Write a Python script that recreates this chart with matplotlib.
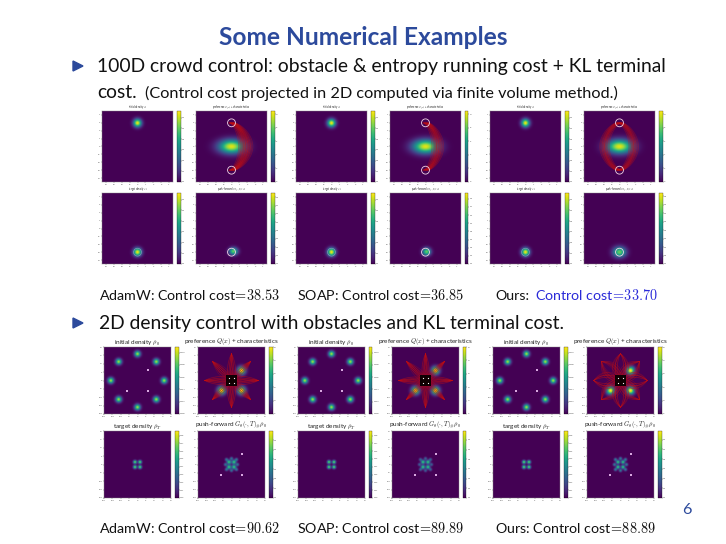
import numpy as np
import matplotlib.pyplot as plt
from matplotlib.patches import Circle, Rectangle, Polygon

plt.rcParams['font.family'] = ['Lato', 'DejaVu Sans']
plt.rcParams['mathtext.fontset'] = 'cm'

# ---- slide text ----
title = 'Some Numerical Examples'
bullet_1 = '100D crowd control: obstacle & entropy running cost + KL terminal'
bullet_1b = 'cost.'
bullet_1_note = '(Control cost projected in 2D computed via finite volume method.)'
bullet_2 = '2D density control with obstacles and KL terminal cost.'
methods = ['AdamW', 'SOAP', 'Ours']
crowd_cost = ['38.53', '36.85', '33.70']
density_cost = ['90.62', '89.89', '88.89']
page_number = '6'

crowd_titles = [r'initial density $\rho_0$', r'preference $Q(x)$ + characteristics',
                r'target density $\rho_1$', r'push-forward $G_\theta(\cdot,T)_\#\rho_0$']
dens_titles = [r'initial density $\rho_0$', r'preference $Q(x)$ + characteristics',
               r'target density $\rho_T$', r'push-forward $G_\theta(\cdot,T)_\#\rho_0$']

# ---- crowd control panels (domain [-4.5, 4.5]^2) ----
crowd_lim = 4.5
crowd_start = (0.0, 3.0)
crowd_goal = (0.0, -3.0)
crowd_sigma = 0.35
crowd_obstacle = (0.0, 0.0)
crowd_obstacle_sigma = (1.1, 0.6)
crowd_ring = 0.5
crowd_push_center = [(0.25, -2.9), (0.15, -2.95), (0.0, -3.0)]
crowd_push_sigma = [(0.38, 0.32), (0.36, 0.33), (0.55, 0.45)]
crowd_bulge = [[1.2, 1.5, 1.8, 2.1, 2.4],
               [1.1, 1.4, 1.7, 2.0],
               [-2.2, -1.9, -1.6, 1.5, 1.8, 2.1]]
crowd_ticks = [-4, -3, -2, -1, 0, 1, 2, 3, 4]

# ---- density control panels (domain [-20, 20]^2) ----
dens_lim = 20
dens_init = [(0, 16), (11.3, 11.3), (16, 0), (11.3, -11.3),
             (0, -16), (-11.3, -11.3), (-16, 0), (-11.3, 11.3)]
dens_obstacles = [(6, 6), (-6, -6), (6, -6)]
dens_targets = [(-1.5, 1.5), (1.5, 1.5), (-1.5, -1.5), (1.5, -1.5)]
dens_halo = [(0, 3.6), (3.0, 3.0), (3.6, 0), (3.0, -3.0),
             (0, -3.6), (-3.0, -3.0), (-3.6, 0), (-3.0, 3.0)]
dens_push_sigma = [0.85, 0.8, 0.75]
dens_halo_amp = [0.55, 0.45, 0.6]
dens_fan = [[-3.0, -1.0, 1.0, 3.0], [-2.5, -0.8, 0.8, 2.5], [-8.0, -5.0, 5.0, 8.0]]
dens_ticks = [-20, -15, -10, -5, 0, 5, 10, 15, 20]

# ---- layout (pixels) ----
W, H = 726, 544
BLUE = '#2C4A9C'
crowd_x = [102, 296, 490]
crowd_rows = [111, 193]
crowd_size = 71
dens_x = [104, 298, 493]
dens_rows = [347, 431]
dens_size = 67
panel_step = 94

fig = plt.figure(figsize=(W / 100, H / 100), dpi=100)
renderer = fig.canvas.get_renderer()


def px_axes(x, y, w, h):
    return fig.add_axes([x / W, 1 - (y + h) / H, w / W, h / H])


def heat(x, y, size, field, lim, ticks, name, tsize, vmax):
    ax = px_axes(x, y, size, size)
    im = ax.imshow(field, origin='lower', extent=[-lim, lim, -lim, lim],
                   cmap='viridis', interpolation='bilinear', vmin=0, vmax=vmax)
    ax.set_xticks(ticks)
    ax.set_yticks(ticks)
    ax.tick_params(labelsize=1.6, length=0.8, width=0.3, pad=0.5, colors='#555555')
    for s in ax.spines.values():
        s.set_linewidth(0.3)
        s.set_color('#888888')
    ax.set_title(name, fontsize=tsize, pad=1, color='#222222')
    cax = px_axes(x + size + 4, y, 3.5, size)
    cb = fig.colorbar(im, cax=cax)
    cb.ax.tick_params(labelsize=1.6, length=0.8, width=0.3, pad=0.5, colors='#555555')
    cb.outline.set_linewidth(0.2)
    ax.set_xlim(-lim, lim)
    ax.set_ylim(-lim, lim)
    return ax


# ---- crowd control fields ----
cg = np.linspace(-crowd_lim, crowd_lim, 181)
CX, CY = np.meshgrid(cg, cg)


def crowd_blob(c, sx, sy):
    return np.exp(-((CX - c[0]) ** 2 / (2 * sx ** 2) + (CY - c[1]) ** 2 / (2 * sy ** 2))) / (2 * np.pi * sx * sy)


rho0 = crowd_blob(crowd_start, crowd_sigma, crowd_sigma)
rho1 = crowd_blob(crowd_goal, crowd_sigma, crowd_sigma)
Q = 10 * np.exp(-((CX - crowd_obstacle[0]) ** 2 / (2 * crowd_obstacle_sigma[0] ** 2)
                  + (CY - crowd_obstacle[1]) ** 2 / (2 * crowd_obstacle_sigma[1] ** 2)))
t = np.linspace(0, 1, 80)
ring_kw = dict(fill=False, ec='#f0d4e4', lw=0.6, zorder=4)

for i in range(3):
    x0 = crowd_x[i]
    heat(x0, crowd_rows[0], crowd_size, rho0, crowd_lim, crowd_ticks, crowd_titles[0], 1.8, rho0.max() * 1.02)
    ax = heat(x0 + panel_step, crowd_rows[0], crowd_size, Q, crowd_lim, crowd_ticks, crowd_titles[1], 1.8, 10.5)
    for b in crowd_bulge[i]:
        for dx in (-0.3, -0.15, 0.0, 0.15, 0.3):
            xs = crowd_start[0] + dx * np.sign(b) + b * np.sin(np.pi * t) ** 0.6
            ys = crowd_start[1] + (crowd_goal[1] - crowd_start[1]) * t
            ax.plot(xs, ys, color='#c81010', lw=0.6, alpha=0.32)
    ax.add_patch(Circle(crowd_start, crowd_ring, **ring_kw))
    ax.add_patch(Circle(crowd_goal, crowd_ring, **ring_kw))
    ax = heat(x0, crowd_rows[1], crowd_size, rho1, crowd_lim, crowd_ticks, crowd_titles[2], 1.8, rho1.max() * 1.02)
    ax.add_patch(Circle(crowd_goal, crowd_ring, fill=False, ec='#f0d4e4', lw=0.4, alpha=0.5))
    sx, sy = crowd_push_sigma[i]
    push = crowd_blob(crowd_push_center[i], sx, sy)
    ax = heat(x0 + panel_step, crowd_rows[1], crowd_size, push, crowd_lim, crowd_ticks, crowd_titles[3], 1.8, push.max() * 1.3)
    ax.add_patch(Circle(crowd_goal, crowd_ring, **ring_kw))

# ---- density control fields ----
dg = np.linspace(-dens_lim, dens_lim, 201)
DX, DY = np.meshgrid(dg, dg)


def dens_sum(centers, s, amps=None):
    if amps is None:
        amps = [1.0] * len(centers)
    return sum(a * np.exp(-((DX - cx) ** 2 + (DY - cy) ** 2) / (2 * s ** 2))
               for (cx, cy), a in zip(centers, amps))


d_rho0 = dens_sum(dens_init, 1.2) * 0.0095
d_Q = dens_sum(dens_obstacles, 1.6) * 50
d_rhoT = dens_sum(dens_targets, 0.7) * 0.07
ox = [p[0] for p in dens_obstacles]
oy = [p[1] for p in dens_obstacles]
tx = [p[0] for p in dens_targets]
ty = [p[1] for p in dens_targets]
tt = np.linspace(0, 1, 60)[:, None]

for i in range(3):
    x0 = dens_x[i]
    ax = heat(x0, dens_rows[0], dens_size, d_rho0, dens_lim, dens_ticks, dens_titles[0], 4.6, d_rho0.max() * 1.15)
    ax.scatter(ox, oy, s=1.2, marker='s', color='#d8a8e0', lw=0)
    ax = heat(x0 + panel_step, dens_rows[0], dens_size, d_Q, dens_lim, dens_ticks, dens_titles[1], 4.6, d_Q.max())
    for c in dens_init:
        p0 = np.array(c, dtype=float)
        for tgt in dens_targets:
            p2 = np.array(tgt, dtype=float)
            d = p2 - p0
            perp = np.array([-d[1], d[0]]) / np.hypot(*d)
            for off in dens_fan[i]:
                p1 = (p0 + p2) / 2 + perp * off
                path = (1 - tt) ** 2 * p0 + 2 * tt * (1 - tt) * p1 + tt ** 2 * p2
                ax.plot(path[:, 0], path[:, 1], color='#c81010', lw=0.5, alpha=0.3)
    ax.add_patch(Rectangle((-3, -3), 6, 6, color='black', alpha=0.9, lw=0, zorder=3))
    ax.scatter(tx, ty, s=0.8, color='white', lw=0, zorder=4)
    ax = heat(x0, dens_rows[1], dens_size, d_rhoT, dens_lim, dens_ticks, dens_titles[2], 4.6, d_rhoT.max() * 1.25)
    push = dens_sum(dens_targets, dens_push_sigma[i]) + dens_sum(dens_halo, 0.6, [dens_halo_amp[i]] * 8)
    ax = heat(x0 + panel_step, dens_rows[1], dens_size, push, dens_lim, dens_ticks, dens_titles[3], 4.6, push.max() * 1.4)
    ax.scatter(ox, oy, s=1.2, marker='s', color='#d8a8e0', lw=0)

# ---- slide text ----


def text_width(s, size, **kw):
    probe = fig.text(0, 0, s, fontsize=size, **kw)
    w = probe.get_window_extent(renderer).width
    probe.remove()
    return w


def fit_size(s, width, **kw):
    return 10 * width / text_width(s, 10, **kw)


def put(x, y, s, size, **kw):
    fig.text(x / W, 1 - y / H, s, fontsize=size, va='baseline', **kw)


def cost(v):
    return r'Control cost$\!=\!' + v + '$'


title_size = fit_size(title, 290, fontweight='bold')
put(363, 45, title, title_size, ha='center', color=BLUE, fontweight='bold')

main_size = fit_size(bullet_1, 570)
note_size = fit_size(bullet_1_note, 474)
put(97, 72, bullet_1, main_size, color='#111111')
put(97, 98, bullet_1b, main_size, color='#111111')
put(145, 98, bullet_1_note, note_size, color='#111111')
put(99, 329, bullet_2, main_size, color='#111111')

for yc in (66, 323):
    tri = Polygon([[73 / W, 1 - (yc - 5) / H], [73 / W, 1 - (yc + 5) / H], [83 / W, 1 - yc / H]],
                  closed=True, transform=fig.transFigure, color=BLUE)
    fig.add_artist(tri)

cap_x = [99, 297, 495]
cap_size = fit_size('AdamW: ' + cost(crowd_cost[0]), 181)
for i, m in enumerate(methods):
    if m == 'Ours':
        put(cap_x[i], 300, m + ':', cap_size, color='#111111')
        gap = text_width(m + ':', cap_size) + 6
        put(cap_x[i] + gap, 300, cost(crowd_cost[i]), cap_size, color='#2A2AD8')
    else:
        put(cap_x[i], 300, m + ': ' + cost(crowd_cost[i]), cap_size, color='#111111')
    put(cap_x[i], 533, m + ': ' + cost(density_cost[i]), cap_size, color='#111111')

put(687, 514, page_number, main_size * 0.85, ha='center', color=BLUE)

fig.savefig('out.png', dpi=100)
